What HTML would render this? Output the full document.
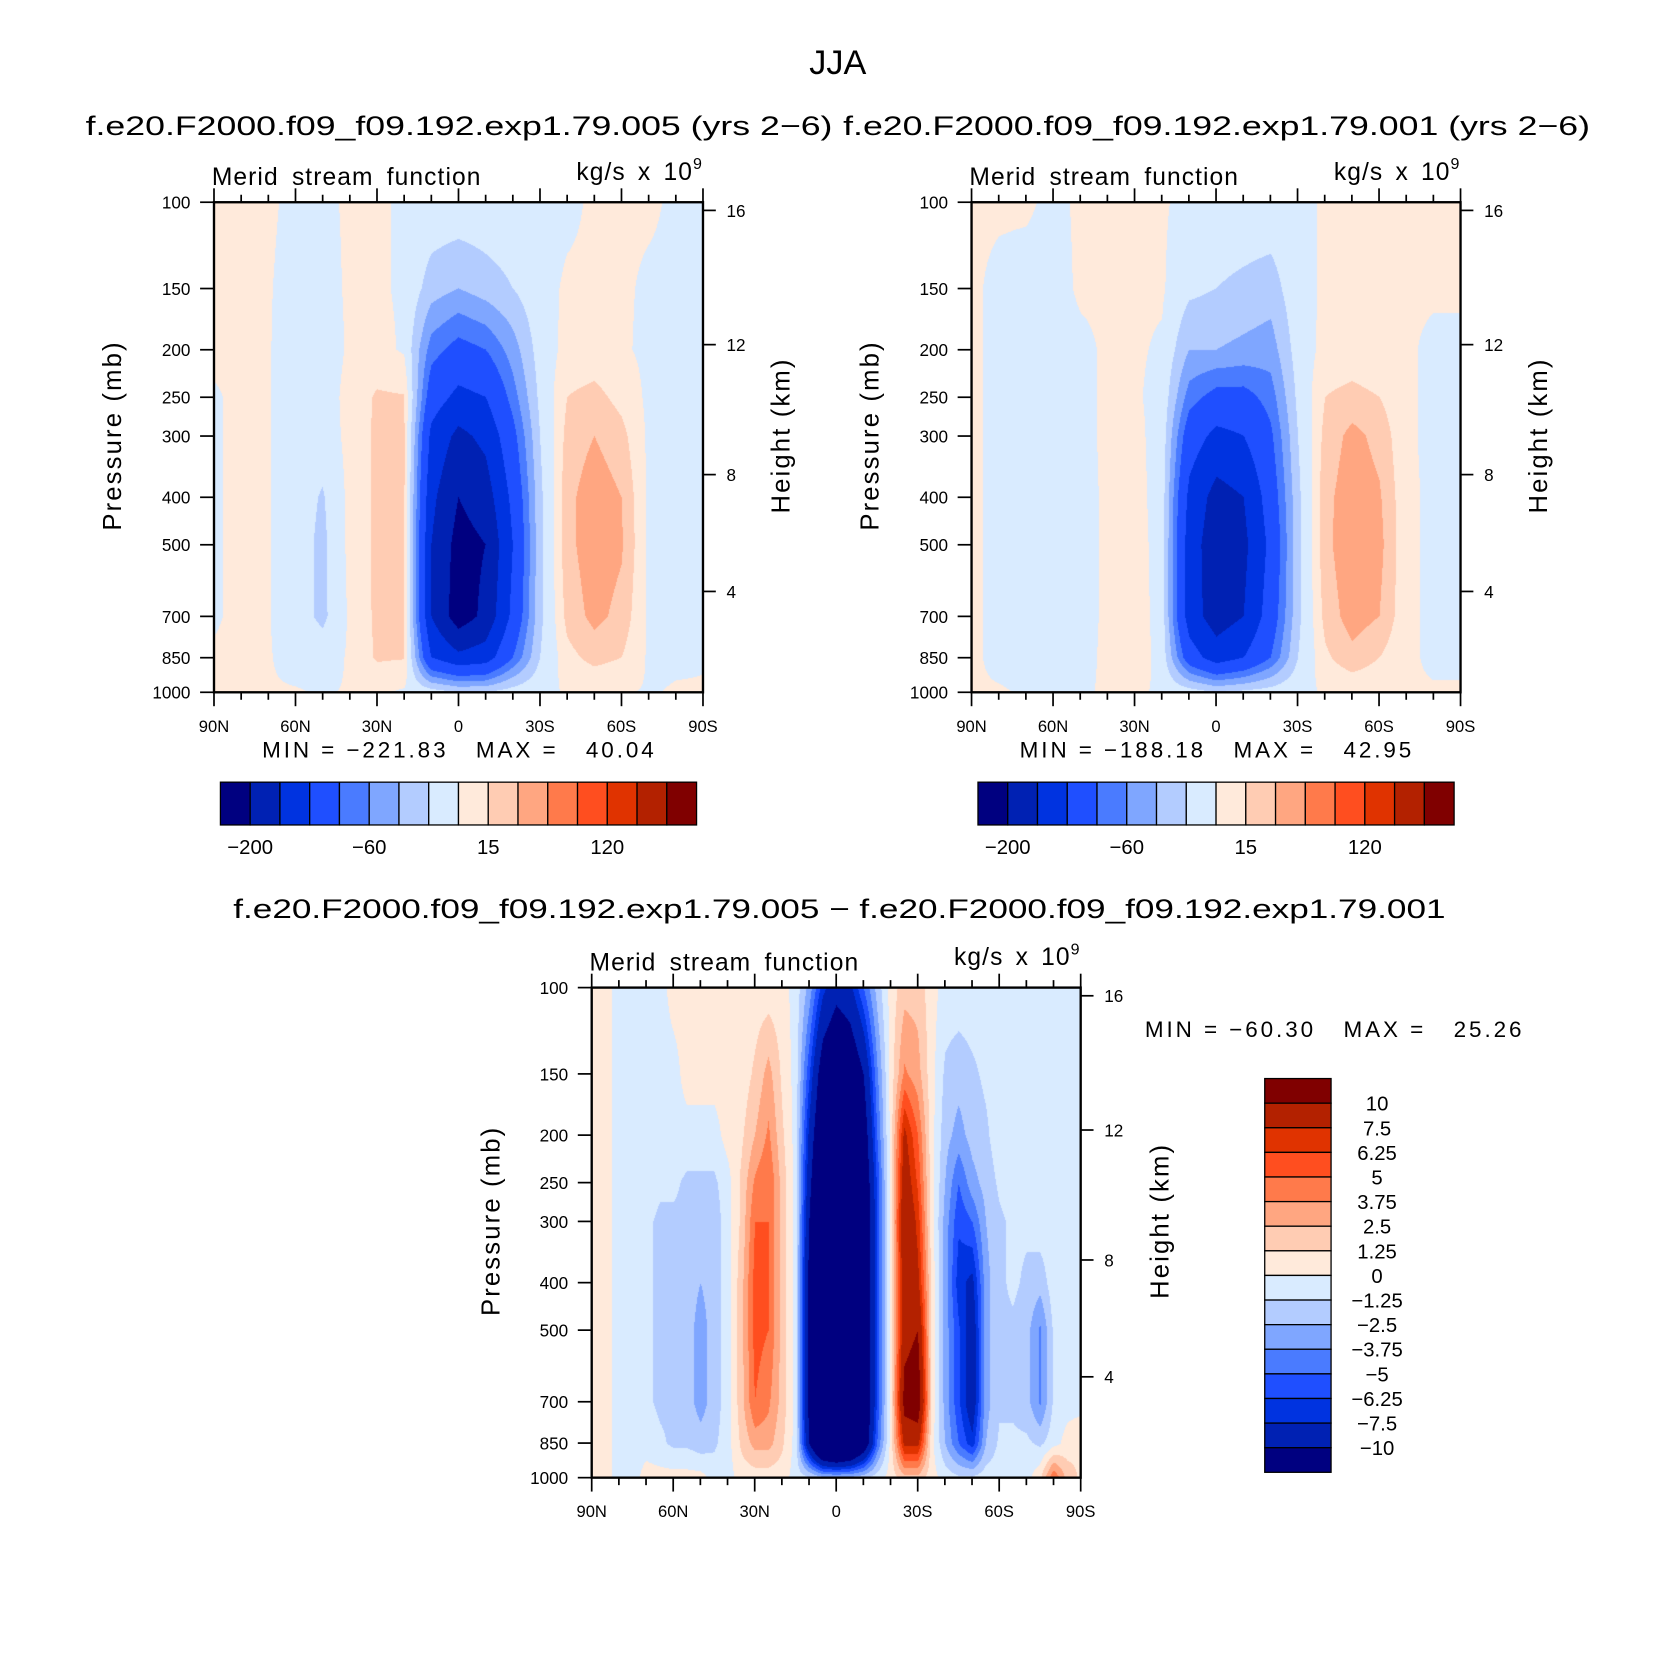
<!DOCTYPE html>
<html><head><meta charset="utf-8">
<style>
html,body{margin:0;padding:0;background:#fff;}
#root{position:relative;width:1674px;height:1677px;overflow:hidden;background:#fff;}
canvas{position:absolute;}
svg{position:absolute;left:0;top:0;}
text{font-family:"Liberation Sans",sans-serif;fill:#000;white-space:pre;}
</style></head>
<body>
<div id="root">
<canvas id="c1"></canvas>
<canvas id="c2"></canvas>
<canvas id="c3"></canvas>
<svg id="svg" width="1674" height="1677" viewBox="0 0 1564.5 1567.3" preserveAspectRatio="none"></svg>
</div>
<script>
const levelsP = [100,150,200,250,300,400,500,700,850,1000];
const latTicks = ["90N","60N","30N","0","30S","60S","90S"];
const heightTicks = [16,12,8,4];
const pressureTickLabels = ["100","150","200","250","300","400","500","700","850","1000"];
const contourLevelsTop = [-200,-160,-120,-80,-60,-40,-20,0,15,30,45,60,80,100,120];
const topBarLabels = ["\u2212200","\u221260","15","120"];
const contourLevelsDiff = [-10,-7.5,-6.25,-5,-3.75,-2.5,-1.25,0,1.25,2.5,3.75,5,6.25,7.5,10];
const diffBarLabels = ["10","7.5","6.25","5","3.75","2.5","1.25","0","\u22121.25","\u22122.5","\u22123.75","\u22125","\u22126.25","\u22127.5","\u221210"];
const colors = ["#000080","#0021b3","#0033e0","#1f4fff","#4a7bff","#7fa6ff","#b3ccff","#d9ebff","#ffeadb","#ffccb3","#ffa681","#ff7a4b","#ff4e1f","#e03300","#b32100","#800000"];

const field1 = [
[2,2,2,-3,-3,2,2,-2,-5,-5,-5,-5,-5,-3,2,2,2,-2,-2],
[2,2,1,-5,-5,2,2,-2,-30,-40,-30,-20,-5,2,2,2,-2,-2,-2],
[2,2,1,-8,-8,2,5,-2,-70,-90,-80,-50,-10,5,5,2,-3,-2,-2],
[-1,2,1,-8,-8,5,17,16,-100,-130,-120,-70,-15,15,20,10,-3,-2,-2],
[-1,2,1,-8,-10,5,18,17,-130,-170,-150,-90,-20,20,30,20,-3,-2,-2],
[-1,2,1,-10,-22,5,18,17,-150,-200,-180,-110,-25,25,40,30,-3,-2,-2],
[-1,2,1,-10,-25,5,18,17,-160,-215,-200,-120,-25,25,40,32,-3,-3,-2],
[-1,2,1,-10,-25,3,18,17,-160,-222,-190,-110,-25,20,35,25,-3,-3,-2],
[1,2,1,-5,-8,2,17,16,-120,-150,-140,-80,-20,10,20,15,-2,-2,-1],
[1,1,1,1,-1,1,2,-2,-10,-20,-20,-10,-3,1,1,1,-1,1,1]];
const field2 = [
[2,2,2,-3,2,2,2,2,-5,-5,-5,-5,-5,2,2,2,2,2,2],
[2,-3,-5,-5,2,2,2,2,-15,-20,-25,-30,-5,2,2,2,2,2,2],
[2,-3,-5,-5,-3,2,2,-2,-40,-40,-45,-50,-10,5,5,2,2,-3,-3],
[2,-3,-5,-5,-3,2,2,-5,-70,-90,-90,-70,-15,15,20,15,2,-3,-3],
[2,-3,-5,-5,-3,2,5,-8,-100,-130,-120,-85,-20,20,35,25,2,-3,-3],
[2,-3,-5,-5,-4,2,8,-10,-130,-175,-160,-100,-25,25,40,32,3,-3,-3],
[2,-3,-5,-5,-4,2,10,-10,-140,-185,-170,-110,-25,25,43,35,3,-3,-3],
[2,-3,-5,-5,-4,2,12,-10,-140,-180,-160,-100,-25,20,38,30,3,-3,-3],
[2,-3,-5,-5,-3,2,12,-8,-100,-140,-120,-80,-20,12,25,15,2,-2,-2],
[1,1,-1,-1,-1,1,2,-2,-10,-20,-15,-10,-3,1,2,2,1,1,1]];
const field3 = [
[0.5,0.5,-0.5,-0.5,-0.5,-0.5,0.5,0.5,0.5,0.5,0.5,0.5,0.5,0.5,0.5,-0.5,-3,-7,-9,-8,-5,-2,0.5,2,2,0.5,-0.5,-0.5,-0.5,-0.5,-0.5,-0.5,-0.5,-0.5,-0.5,-0.5,-0.5],
[0.5,0.5,-0.5,-0.5,-0.5,-0.5,-0.5,0.5,0.5,0.5,0.5,0.5,1.5,3,1,-0.5,-6,-12,-14,-13,-10,-4,0.5,4,3,0.5,-1.5,-2,-1.5,-1,-0.5,-0.5,-0.5,-0.5,-0.5,-0.5,-0.5],
[0.5,0.5,-0.5,-0.5,-0.5,-0.5,-0.5,-0.5,-0.5,-0.5,0.5,1,2.5,4,1.5,-0.5,-8,-14,-16,-15,-12,-5,0.5,8,5,0.5,-2,-3,-2,-1.5,-0.5,-0.5,-0.5,-0.5,-0.5,-0.5,-0.5],
[0.5,0.5,-0.5,-0.5,-0.5,-1,-1,-1.5,-1.5,-1.5,-0.5,1.5,4,5,2,-0.5,-9,-16,-18,-17,-13,-6,0.5,9,6,0.5,-2.5,-5,-3,-2,-1,-0.5,-0.5,-0.5,-0.5,-0.5,-0.5],
[0.5,0.5,-0.5,-0.5,-1,-1.5,-1.5,-1.5,-2,-2,-0.5,1.5,5,5,2,-0.5,-10,-18,-20,-19,-14,-6,0.5,10,7,0.5,-3,-6,-5,-2.5,-1.5,-1,-1,-0.5,-0.5,-0.5,-0.5],
[0.5,0.5,-0.5,-0.5,-1,-1.5,-1.5,-2,-2.5,-2,-0.5,2,5.5,5,2,-0.5,-11,-20,-22,-20,-14,-6,0.5,9,8,1,-3,-7,-8,-3,-1.5,-1,-1.5,-2,-0.5,-0.5,-0.5],
[0.5,0.5,-0.5,-0.5,-1,-1.5,-1.5,-2,-3,-2,-0.5,2,5.5,5,2,-0.5,-11,-20,-22,-20,-14,-6,0.5,9,10,1,-3,-6,-9,-3,-1.5,-1.5,-2,-4,-1,-0.5,-0.5],
[0.5,0.5,-0.5,-0.5,-1,-1.5,-1.5,-2,-3,-2,-0.5,2,5,4,2,-0.5,-11,-20,-22,-20,-14,-6,0.5,11,12,1,-3,-6,-9,-3,-1.5,-1.5,-2,-4,-1,-0.5,-0.5],
[0.5,0.5,-0.5,-0.5,-0.5,-1,-1.5,-1.5,-2,-1.5,-0.5,1.5,3,3,1.5,-0.5,-10,-18,-20,-18,-13,-5,0.5,8,8,0.5,-2.5,-5,-7,-2.5,-1,-1,-1,-1.5,-0.5,0.5,1],
[0.5,0.5,-0.5,-0.5,0.5,0.5,0.5,0.5,0.5,-0.5,-0.5,0.5,0.5,0.5,0.5,-0.5,-1,-2,-2,-2,-1.5,-0.5,0.5,2,2,0.5,-0.5,-1,-1,-0.5,-0.5,-0.5,-0.5,1,5,2,1]];

const S = 1674/1564.5;
const NS = "http://www.w3.org/2000/svg";
const svg = document.getElementById('svg');
function el(tag, attrs, parent, txt){
  const e = document.createElementNS(NS, tag);
  for (const k in attrs) e.setAttribute(k, attrs[k]);
  if (txt !== undefined) e.textContent = txt;
  (parent||svg).appendChild(e);
  return e;
}
function stdP(hkm){
  const h = hkm*1000;
  if (h < 11000) return 1013.25*Math.pow(1-2.2558e-5*h,5.2559);
  return 226.32*Math.exp(-(h-11000)/6341.6);
}
function drawField(canvasId, field, lev, px, py, pw, ph){
  const cv = document.getElementById(canvasId);
  const W = Math.round(pw*S), H = Math.round(ph*S);
  cv.width = W; cv.height = H;
  cv.style.left = (px*S)+'px'; cv.style.top = (py*S)+'px';
  cv.style.width = W+'px'; cv.style.height = H+'px';
  const ctx = cv.getContext('2d');
  const img = ctx.createImageData(W,H);
  const nc = field[0].length;
  const lp = levelsP.map(p=>Math.log10(p));
  const rgb = colors.map(c=>[parseInt(c.substr(1,2),16),parseInt(c.substr(3,2),16),parseInt(c.substr(5,2),16)]);
  for (let j=0;j<H;j++){
    const l = 2 + (j+0.5)/H;
    let r=0; while(r<lp.length-2 && l>lp[r+1]) r++;
    const fy = Math.min(1,Math.max(0,(l-lp[r])/(lp[r+1]-lp[r])));
    for (let i=0;i<W;i++){
      const fx = (i+0.5)/W*(nc-1);
      let c = Math.min(nc-2, Math.floor(fx)); const tx = fx-c;
      const v = (field[r][c]*(1-tx)+field[r][c+1]*tx)*(1-fy) + (field[r+1][c]*(1-tx)+field[r+1][c+1]*tx)*fy;
      let k=0; while(k<lev.length && v>=lev[k]) k++;
      const o=(j*W+i)*4; img.data[o]=rgb[k][0]; img.data[o+1]=rgb[k][1]; img.data[o+2]=rgb[k][2]; img.data[o+3]=255;
    }
  }
  ctx.putImageData(img,0,0);
}
function axes(name, x0, y0, w, h, ylabelX, hlabelX){
  const g = el('g', { });
  const yP = p => y0 + (Math.log10(p)-2)*h;
  const xL = latS => x0 + (latS+90)/180*w;
  el('rect',{x:x0,y:y0,width:w,height:h,fill:'none',stroke:'#000','stroke-width':2.2},g);
  const gy = el('g',{},g);
  levelsP.forEach((p,i)=>{
    const y=yP(p);
    el('line',{x1:x0-13,y1:y,x2:x0,y2:y,stroke:'#000','stroke-width':1.6},gy);
    el('text',{x:x0-22,y:y+6,'font-size':16,'text-anchor':'end'},gy,pressureTickLabels[i]);
  });
  const gx = el('g',{},g);
  for (let d=-90; d<=90; d+=10){
    const x=xL(d), major = d%30===0;
    el('line',{x1:x,y1:y0+h,x2:x,y2:y0+h+(major?13:7),stroke:'#000','stroke-width':1.6},gx);
    el('line',{x1:x,y1:y0,x2:x,y2:y0-(major?13:7),stroke:'#000','stroke-width':1.6},gx);
  }
  latTicks.forEach((t,i)=>{
    el('text',{x:xL(-90+30*i),y:y0+h+37,'font-size':15.5,'text-anchor':'middle'},gx,t);
  });
  const gh = el('g',{},g);
  heightTicks.forEach(hk=>{
    const y=yP(stdP(hk))+2;
    el('line',{x1:x0+w,y1:y,x2:x0+w+12,y2:y,stroke:'#000','stroke-width':1.6},gh);
    el('text',{x:x0+w+22,y:y+6,'font-size':16},gh,String(hk));
  });
  el('text',{transform:`translate(${ylabelX},${y0+h*0.5-11}) rotate(-90)`,'font-size':24,'letter-spacing':2,'text-anchor':'middle',},g,'Pressure (mb)');
  el('text',{transform:`translate(${hlabelX},${y0+h*0.5-11}) rotate(-90)`,'font-size':24,'letter-spacing':2,'text-anchor':'middle',},g,'Height (km)');
  el('text',{x:x0-2,y:y0-16,'font-size':23,'letter-spacing':1,'word-spacing':5,},g,'Merid stream function');
  const u = el('text',{x:x0+w,y:y0-21,'font-size':23,'text-anchor':'end','letter-spacing':1,'word-spacing':4,},g,'kg/s x 10');
  el('tspan',{'font-size':15,dy:-10},u,'9');
}
function hbar(name, x0, y0, w, h, labels){
  const g = el('g',{});
  const bw = w/colors.length;
  colors.forEach((c,i)=>{
    const r = el('rect',{x:x0+i*bw,y:y0,width:bw,height:h,fill:c,stroke:'#000','stroke-width':1.2},g);
    
    
  });
  labels.forEach((t,i)=>{
    el('text',{x:x0+(1+4*i)*bw,y:y0+h+27,'font-size':19,'text-anchor':'middle'},g,t);
  });
}
function vbar(name, x0, y0, w, h, labels){
  const g = el('g',{});
  const bh = h/colors.length;
  for (let i=0;i<colors.length;i++){
    const r = el('rect',{x:x0,y:y0+i*bh,width:w,height:bh,fill:colors[colors.length-1-i],stroke:'#000','stroke-width':1.2},g);
    
    
  }
  labels.forEach((t,i)=>{
    el('text',{x:x0+w+43,y:y0+(i+1)*bh+7,'font-size':19,'text-anchor':'middle'},g,t);
  });
}

drawField('c1', field1, contourLevelsTop, 200, 189, 457, 458);
drawField('c2', field2, contourLevelsTop, 908, 189, 457, 458);
drawField('c3', field3, contourLevelsDiff, 553, 923, 457, 458);

el('text',{x:783,y:69,'font-size':32,'text-anchor':'middle',},svg,'JJA');
el('text',{x:80,y:126,'font-size':25,textLength:698,lengthAdjust:'spacingAndGlyphs',},svg,'f.e20.F2000.f09_f09.192.exp1.79.005 (yrs 2\u22126)');
el('text',{x:788,y:126,'font-size':25,textLength:698,lengthAdjust:'spacingAndGlyphs',},svg,'f.e20.F2000.f09_f09.192.exp1.79.001 (yrs 2\u22126)');
el('text',{x:218,y:858,'font-size':25,textLength:1133,lengthAdjust:'spacingAndGlyphs',},svg,'f.e20.F2000.f09_f09.192.exp1.79.005 \u2212 f.e20.F2000.f09_f09.192.exp1.79.001');

axes('left-plot-axes', 200, 189, 457, 458, 113, 738);
axes('right-plot-axes', 908, 189, 457, 458, 821, 1446);
axes('difference-plot-axes', 553, 923, 457, 458, 467, 1092);

el('text',{x:245,y:708,'font-size':21,textLength:366,lengthAdjust:'spacing',},svg,'MIN = \u2212221.83   MAX =   40.04');
el('text',{x:953,y:708,'font-size':21,textLength:366,lengthAdjust:'spacing',},svg,'MIN = \u2212188.18   MAX =   42.95');
el('text',{x:1070,y:969,'font-size':21,textLength:352,lengthAdjust:'spacing',},svg,'MIN = \u221260.30   MAX =   25.26');

hbar('left-colorbar', 206, 731, 445, 40, topBarLabels);
hbar('right-colorbar', 914, 731, 445, 40, topBarLabels);
vbar('difference-colorbar', 1182, 1008, 62, 368, diffBarLabels);
</script>
</body></html>
